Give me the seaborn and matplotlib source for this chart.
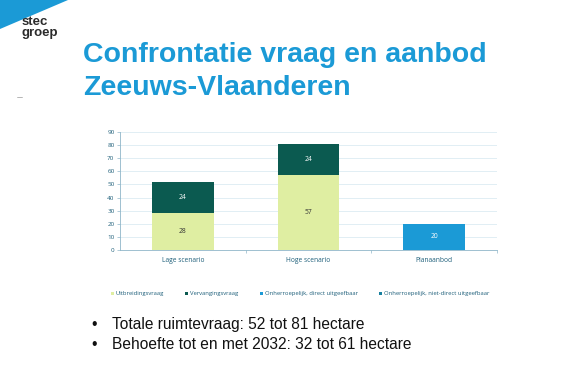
import matplotlib
matplotlib.use("Agg")
import matplotlib.pyplot as plt
from matplotlib.patches import Polygon, Patch
import seaborn as sns
import pandas as pd
import numpy as np

categories = ["Lage scenario", "Hoge scenario", "Planaanbod"]
uitbreidingsvraag = [28, 57, 0]
vervangingsvraag = [24, 24, 0]
direct_uitgeefbaar = [0, 0, 20]
niet_direct_uitgeefbaar = [0, 0, 0]
series_names = ["Uitbreidingsvraag", "Vervangingsvraag",
                "Onherroepelijk, direct uitgeefbaar",
                "Onherroepelijk, niet-direct uitgeefbaar"]
y_ticks = [0, 10, 20, 30, 40, 50, 60, 70, 80, 90]
title_lines = ["Confrontatie vraag en aanbod", "Zeeuws-Vlaanderen"]
bullets = ["Totale ruimtevraag: 52 tot 81 hectare",
           "Behoefte tot en met 2032: 32 tot 61 hectare"]

colors = ["#dfeea2", "#0b5a50", "#1b9ad6", "#17809f"]
label_colors = ["#333333", "white", "white", "white"]

sns.set_theme(style="white")
plt.rcParams['font.family'] = ['Liberation Sans', 'DejaVu Sans']

fig = plt.figure(figsize=(5.64, 3.68), dpi=100)
fig.patch.set_facecolor("white")

# slide decorations
tri = Polygon([[0, 1], [68 / 564, 1], [0, 1 - 29 / 368]], closed=True,
              transform=fig.transFigure, facecolor="#1b9ad6", edgecolor="none")
fig.patches.append(tri)
fig.text(22 / 564, 1 - 25 / 368, "stec", fontsize=9.5, fontweight="bold",
         color="#2b2b2b", va="baseline", ha="left")
fig.text(22 / 564, 1 - 36 / 368, "groep", fontsize=9.5, fontweight="bold",
         color="#2b2b2b", va="baseline", ha="left")
fig.add_artist(plt.Line2D([17 / 564, 22 / 564], [1 - 97 / 368, 1 - 97 / 368],
                          transform=fig.transFigure, color="#aaaaaa", lw=0.6))
fig.text(83 / 564, 1 - 62 / 368, title_lines[0], fontsize=20.5, fontweight="bold",
         color="#1b9ad6", va="baseline", ha="left")
fig.text(83 / 564, 1 - 95 / 368, title_lines[1], fontsize=20.5, fontweight="bold",
         color="#1b9ad6", va="baseline", ha="left")

for i, b in enumerate(bullets):
    yb = 1 - (329 + 20 * i) / 368
    fig.text(91 / 564, yb, "\u2022", fontsize=11.2, color="#111111", va="baseline")
    fig.text(112 / 564, yb, b, fontsize=11.2, color="#111111", va="baseline")

# chart
ax = fig.add_axes([120 / 564, 1 - 250 / 368, 377 / 564, 118 / 368])
df = pd.DataFrame({"cat": categories,
                   "u": uitbreidingsvraag, "v": vervangingsvraag,
                   "d": direct_uitgeefbaar, "n": niet_direct_uitgeefbaar})
bottom = np.zeros(len(categories))
for key, name, col, lc in zip(["u", "v", "d", "n"], series_names, colors, label_colors):
    vals = df[key].to_numpy(dtype=float)
    sns.barplot(data=df, x="cat", y=key, color=col, width=0.49, ax=ax,
                bottom=bottom, saturation=1, linewidth=0, errorbar=None)
    for i, v in enumerate(vals):
        if v > 0:
            ax.text(i, bottom[i] + v / 2, f"{int(v)}", ha="center", va="center",
                    fontsize=4.8, color=lc, fontfamily="Open Sans")
    bottom = bottom + vals

ax.set_xlim(-0.5, 2.5)
ax.set_ylim(0, 90)
ax.set_yticks(y_ticks)
ax.set_yticklabels([str(t) for t in y_ticks], fontsize=4.5, color="#1e5f7a",
                   fontfamily="Open Sans")
ax.set_xticks(range(len(categories)))
ax.set_xticklabels(categories, fontsize=4.8, color="#1e5f7a", fontfamily="Open Sans")
ax.set_xlabel("")
ax.set_ylabel("")
ax.set_axisbelow(True)
ax.yaxis.grid(True, color="#dcebf3", linewidth=0.6)
for s in ["top", "right"]:
    ax.spines[s].set_visible(False)
for s in ["left", "bottom"]:
    ax.spines[s].set_color("#8fb6c9")
    ax.spines[s].set_linewidth(0.6)
ax.tick_params(axis="y", length=2, width=0.5, color="#8fb6c9", pad=2, left=True)
ax.tick_params(axis="x", which="major", length=0, pad=5)
ax.set_xticks([0.5, 1.5, 2.5], minor=True)
ax.tick_params(axis="x", which="minor", length=2.5, width=0.5, color="#8fb6c9",
               bottom=True)

handles = [Patch(facecolor=c, edgecolor="none") for c in colors]
leg = fig.legend(handles, series_names, ncol=4, loc="center",
                 bbox_to_anchor=(300 / 564, 1 - 294 / 368), frameon=False,
                 handlelength=0.5, handleheight=0.5, handletextpad=0.3,
                 columnspacing=3.7, prop={"family": "Open Sans", "size": 4.2})
for t in leg.get_texts():
    t.set_color("#1e5f7a")

fig.savefig("out.png", dpi=100, facecolor="white")
